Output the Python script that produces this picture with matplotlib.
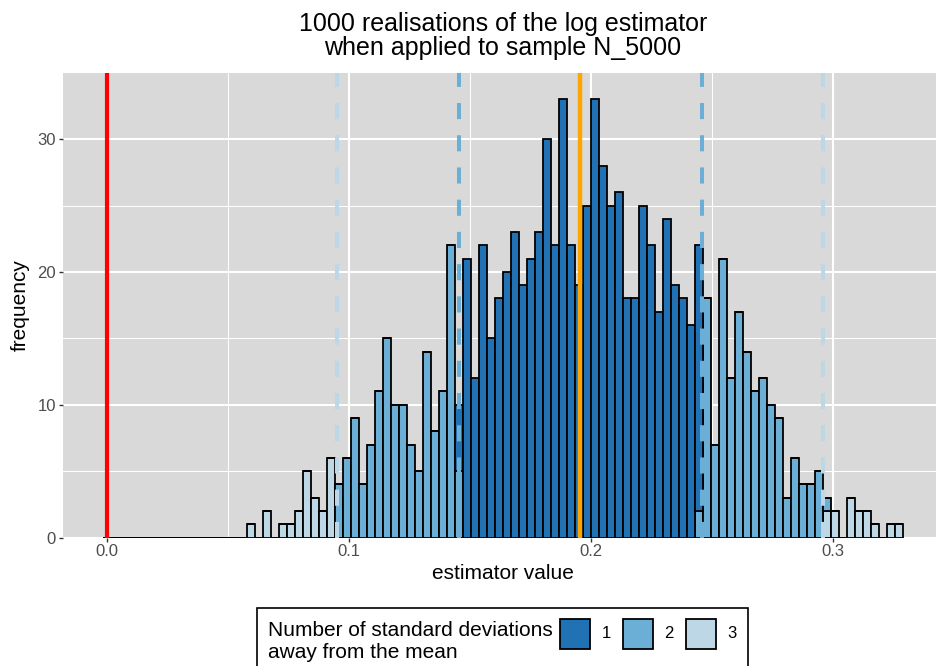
import numpy as np
import matplotlib.pyplot as plt
from matplotlib.patches import Rectangle

plt.rcParams['font.family'] = ['Liberation Sans', 'DejaVu Sans']

# histogram bins (centred on k * bin_width) and counts per sd-group
bin_width = 0.003308
n_bins = 100
counts_1sd = [0] * 20 + [0] * 20 + \
    [0, 0, 0, 0, 5, 21, 12, 22, 15, 18, 20, 23, 19, 21, 23, 30, 22, 33, 22, 19] + \
    [25, 33, 28, 25, 26, 18, 18, 25, 22, 17, 24, 19, 18, 16, 20, 0, 0, 0, 0, 0] + [0] * 20
counts_2sd = [0] * 20 + \
    [0, 0, 0, 0, 0, 0, 0, 0, 0, 4, 6, 9, 4, 7, 11, 15, 10, 10, 7, 5] + \
    [14, 8, 11, 22, 5] + [0] * 15 + \
    [0] * 14 + [2, 18, 7, 21, 12, 17] + \
    [14, 11, 12, 10, 9, 3, 6, 4, 4, 5, 1, 0, 0, 0, 0, 0, 0, 0, 0, 0]
counts_3sd = [0] * 18 + [1, 0] + \
    [2, 0, 1, 1, 2, 5, 3, 2, 6, 0, 0, 0, 0, 0, 0, 0, 0, 0, 0, 0] + [0] * 40 + \
    [0] * 10 + [2, 2, 0, 3, 2, 2, 1, 0, 1, 1]

group_labels = ['1', '2', '3']
group_colors = ['#2171B5', '#6BAED6', '#BDD7E7']

mean_val = 0.1956
sd_val = 0.0502
true_val = 0.0

W, H = 936, 666
fig = plt.figure(figsize=(W / 100, H / 100), dpi=100)


def fx(x):
    return x / W


def fy(y):
    return 1 - y / H


ax = fig.add_axes([fx(62.7), fy(537.5), (943.5 - 62.7) / W, (537.5 - 72.7) / H])
ax.set_facecolor('#D9D9D9')
for s in ax.spines.values():
    s.set_visible(False)

centers = np.arange(n_bins) * bin_width
c1 = np.array(counts_1sd)
c2 = np.array(counts_2sd)
c3 = np.array(counts_3sd)
ax.bar(centers, c3, width=bin_width, color=group_colors[2], edgecolor='black', linewidth=1.3, zorder=2)
ax.bar(centers, c2, width=bin_width, bottom=c3, color=group_colors[1], edgecolor='black', linewidth=1.3, zorder=2)
ax.bar(centers, c1, width=bin_width, bottom=c3 + c2, color=group_colors[0], edgecolor='black', linewidth=1.3, zorder=2)

# reference lines
ax.axvline(true_val, color='#FF0000', linewidth=3, zorder=3)
ax.axvline(mean_val, color='#FFA500', linewidth=3.2, zorder=3)
for k, col in [(1, group_colors[1]), (2, group_colors[2])]:
    for sign in (-1, 1):
        ax.axvline(mean_val + sign * k * sd_val, color=col, linewidth=2.9,
                   linestyle=(0, (4, 4)), zorder=3)

lo = -bin_width / 2
hi = (n_bins - 1) * bin_width + bin_width / 2
span = hi - lo
ax.set_xlim(lo - 0.05 * span, hi + 0.05 * span)
ax.set_ylim(0, 35)

ax.set_xticks([0.0, 0.1, 0.2, 0.3])
ax.set_xticklabels(['0.0', '0.1', '0.2', '0.3'])
ax.set_xticks([0.05, 0.15, 0.25], minor=True)
ax.set_yticks([0, 10, 20, 30])
ax.set_yticks([5, 15, 25], minor=True)
ax.grid(which='major', color='white', linewidth=1.5)
ax.grid(which='minor', color='white', linewidth=0.75)
ax.set_axisbelow(True)
ax.tick_params(which='major', length=3, width=1, color='#333333', labelcolor='#4D4D4D',
               labelsize=12, pad=2)
ax.tick_params(which='minor', length=0)

ax.set_xlabel('estimator value', fontsize=15, labelpad=3)
ax.set_ylabel('frequency', fontsize=15, labelpad=5)

fig.text(fx(503), fy(24), '1000 realisations of the log estimator', ha='center', va='center', fontsize=18)
fig.text(fx(503), fy(48), 'when applied to sample N_5000', ha='center', va='center', fontsize=18)

# legend drawn by hand (box runs off the bottom edge)
fig.add_artist(Rectangle((fx(257), fy(700)), (748 - 257) / W, (700 - 608) / H,
                         transform=fig.transFigure, facecolor='white', edgecolor='black', linewidth=1.2))
fig.text(fx(268), fy(630), 'Number of standard deviations', ha='left', va='center', fontsize=15)
fig.text(fx(268), fy(652), 'away from the mean', ha='left', va='center', fontsize=15)
for i, (lab, col) in enumerate(zip(group_labels, group_colors)):
    x0 = 560 + 63 * i
    fig.add_artist(Rectangle((fx(x0), fy(649)), 30 / W, 30 / H, transform=fig.transFigure,
                             facecolor=col, edgecolor='black', linewidth=1.3))
    fig.text(fx(x0 + 46), fy(634), lab, ha='center', va='center', fontsize=12)

fig.savefig('out.png', dpi=100)
